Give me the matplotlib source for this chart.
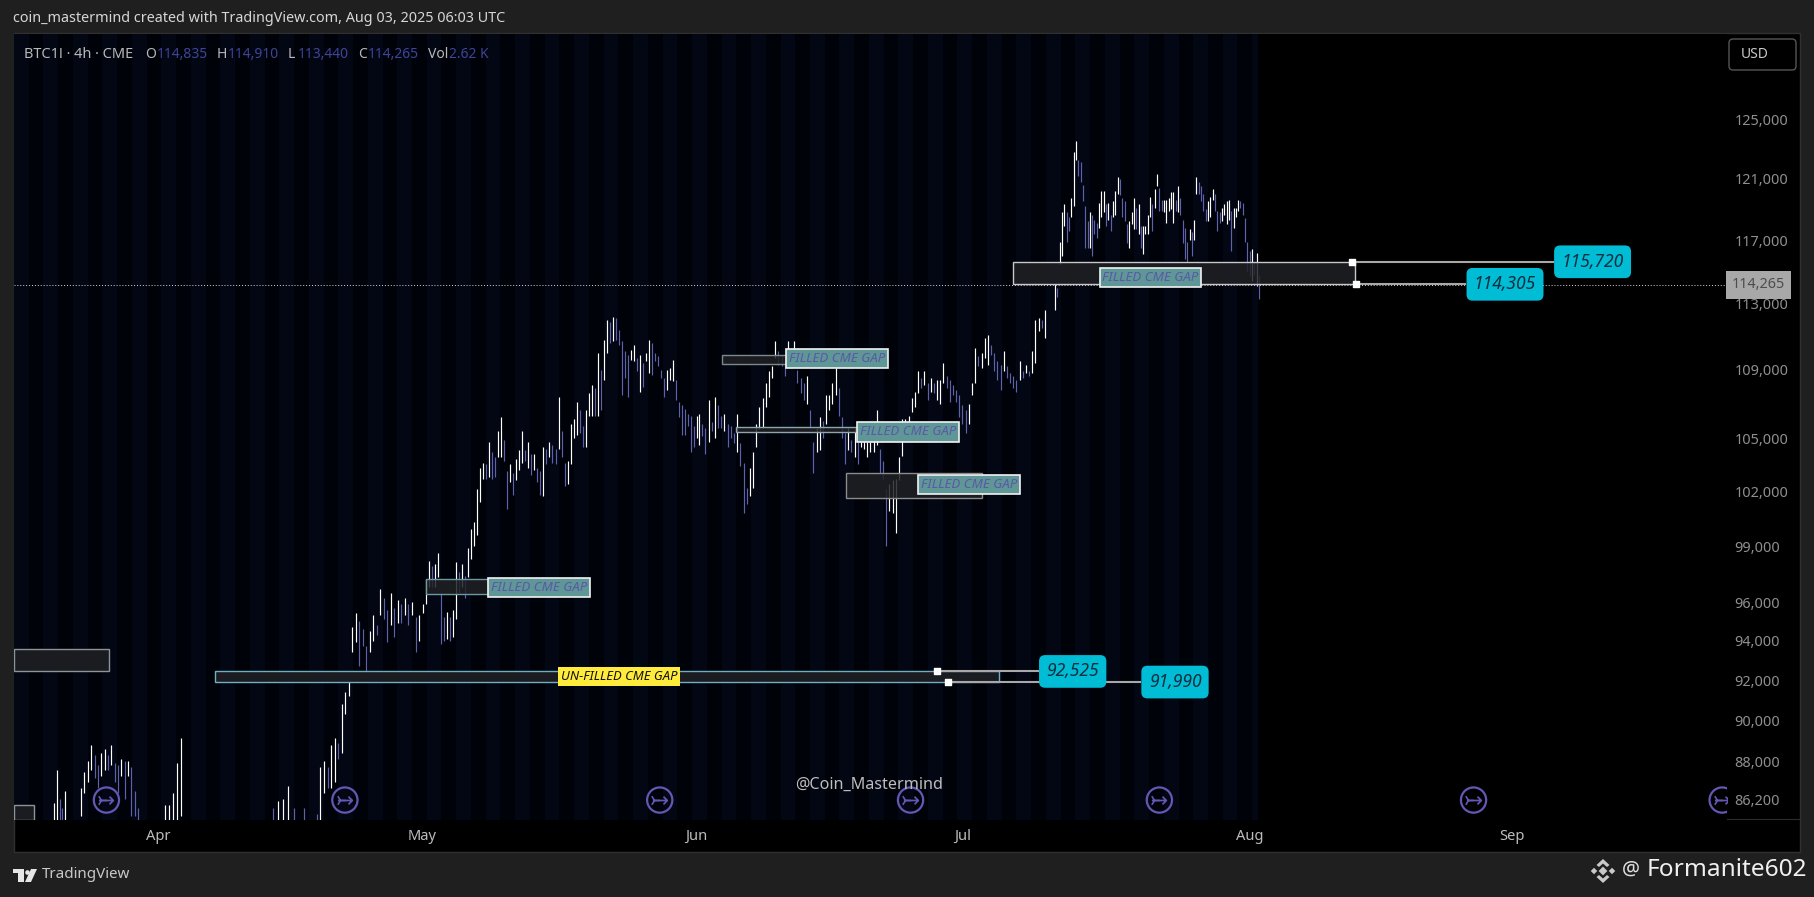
#!/usr/bin/env python3
import numpy as np
import matplotlib

matplotlib.use("Agg")
import matplotlib.pyplot as plt
from matplotlib.patches import Polygon, Rectangle, FancyBboxPatch
from matplotlib.transforms import ScaledTranslation

WIDTH, HEIGHT = 1814, 897
plt.rcParams["font.family"] = ["Noto Sans", "DejaVu Sans"]

# price ticks and month labels, x is counted in bars
PRICE_TICKS = [125000, 121000, 117000, 113000, 109000, 105000, 102000,
               99000, 96000, 94000, 92000, 90000, 88000, 86200]
MONTHS = ["Apr", "May", "Jun", "Jul", "Aug", "Sep"]
MONTH_POS = [65.7, 185.5, 310.2, 431.2, 561.6, 680.9]
LAST_PRICE = 114265
SESSION_END = 565.6

# each stretch of bars: first bar, last bar, highs, lows (in thousands)
SPAN_A = (18.2, 23.2)
HIGH_A = [86.1, 87.7, 86.3, 85.9, 86.7]
LOW_A = [85.3, 85.3, 85.3, 85.3, 85.3]

SPAN_B = (30.5, 56.4)
HIGH_B = [86.8, 87.6, 88.1, 88.9, 88.4, 87.9, 88.5, 88.7, 88.4, 88.9, 88.0,
          87.9, 88.2, 88.1, 88.1, 87.8, 86.7, 85.9]
LOW_B = [85.5, 86.6, 87.1, 87.7, 87.3, 86.8, 87.4, 87.7, 87.7, 87.9, 87.1,
         86.6, 87.4, 86.3, 87.4, 85.5, 85.5, 85.3]

SPAN_C = (68.6, 75.9)
HIGH_C = [86.0, 86.0, 86.6, 88.0, 89.2]
LOW_C = [85.3, 85.3, 85.3, 85.3, 85.5]

SPAN_D = (117.7, 131.8)
HIGH_D = [85.9, 86.2, 86.3, 86.9, 85.9, np.nan, 85.9]
LOW_D = [85.3, 85.3, 85.3, 85.3, 85.3, np.nan, 85.3]

SPAN_E = (137.7, 187.3)
HIGH_E = [85.6, 87.8, 88.1, 87.8, 88.9, 89.2, 89.0, 90.9, 91.5, 92.0, 94.8,
          95.5, 95.1, 94.7, 93.8, 94.6, 95.4, 94.9, 96.8, 96.3, 95.7, 96.6,
          95.8, 96.2, 96.0, 96.3, 96.0, 96.1, 95.3, 95.4, 96.0, 97.3]
LOW_E = [85.3, 85.3, 86.6, 86.8, 86.8, 87.1, 88.2, 88.5, 90.4, 91.3, 93.5,
         94.0, 92.8, 93.8, 92.5, 93.5, 94.1, 94.4, 95.4, 95.2, 94.0, 94.9,
         94.3, 95.0, 95.0, 95.4, 94.9, 95.4, 93.5, 94.1, 95.5, 96.0]

SPAN_F = (188.6, 310.5)
HIGH_F = [98.3, 98.0, 98.1, 98.7, 96.6, 95.3, 95.6, 95.3, 95.7, 98.2, 97.7,
          98.1, 97.5, 99.0, 100.0, 100.4, 102.2, 103.4, 103.7, 103.6, 104.9,
          104.3, 104.0, 105.5, 106.3, 105.0, 103.2, 103.6, 103.1, 103.9,
          104.4, 105.5, 104.4, 104.9, 104.2, 104.2, 103.4, 103.2, 104.6,
          104.5, 104.9, 104.7, 104.5, 107.5, 105.5, 103.7, 103.8, 105.9,
          106.2, 107.2, 106.7, 105.8, 106.7, 107.7, 108.2, 108.0, 110.1,
          109.1, 110.9, 112.1, 112.0, 112.3, 112.2, 111.5, 110.8, 110.2,
          110.0, 110.3, 110.6, 109.8, 110.0, 109.5, 110.1, 110.9, 110.7,
          110.1, 109.9, 109.1, 108.6, 109.1, 109.2, 109.7, 108.5, 107.2,
          107.0, 106.8, 106.5, 106.4, 105.8, 106.4]
LOW_F = [96.9, 96.9, 96.9, 97.4, 93.9, 94.1, 94.2, 94.1, 94.3, 95.2, 96.6,
         96.9, 96.3, 97.4, 98.4, 99.1, 99.7, 101.5, 102.8, 102.8, 102.9,
         102.8, 102.9, 104.0, 104.0, 103.8, 101.1, 102.6, 101.9, 102.7,
         103.3, 103.7, 103.8, 103.4, 103.0, 103.3, 102.6, 101.9, 101.8,
         103.6, 104.0, 103.7, 103.6, 104.5, 104.0, 102.4, 102.5, 103.6,
         105.1, 105.3, 105.4, 104.6, 104.6, 106.4, 106.4, 106.4, 106.4,
         106.7, 108.5, 110.1, 110.7, 110.8, 110.9, 110.6, 107.6, 108.6,
         107.5, 109.7, 109.6, 109.0, 107.8, 108.1, 109.6, 108.9, 108.8,
         109.6, 109.3, 108.6, 107.5, 107.9, 108.5, 108.4, 107.3, 106.3,
         105.3, 105.3, 105.8, 104.3, 104.6, 105.1]

SPAN_G = (311.4, 468.6)
HIGH_G = [106.5, 105.9, 105.7, 107.3, 106.0, 107.5, 107.0, 106.4, 106.5,
          105.9, 105.8, 105.4, 106.5, 104.8, 103.7, 102.3, 103.4, 104.3,
          105.9, 106.9, 107.4, 108.3, 109.0, 109.3, 110.8, 110.2, 110.0,
          109.6, 110.8, 110.0, 110.8, 109.1, 108.6, 108.3, 108.7, 106.7,
          104.9, 105.7, 106.3, 106.1, 107.6, 107.6, 108.3, 109.2, 108.0,
          106.3, 105.4, 105.7, 105.0, 105.7, 104.9, 104.9, 104.9, 104.9,
          104.9, 105.1, 106.7, 104.5, 103.8, 102.2, 102.5, 102.7, 102.8,
          104.0, 106.2, 106.2, 106.4, 107.4, 107.8, 109.0, 108.6, 109.0,
          108.3, 108.6, 108.3, 108.5, 108.5, 109.5, 108.7, 108.5, 108.2,
          107.9, 107.6, 107.0, 106.7, 107.1, 108.3, 110.4, 109.9, 110.1,
          111.0, 111.2, 110.6, 110.1, 109.6, 109.4, 110.2, 109.3, 108.9,
          108.7, 108.5, 109.6, 109.0, 109.4, 109.0, 110.2, 112.1, 112.2,
          112.1, 112.7]
LOW_G = [104.7, 105.2, 104.2, 104.9, 105.5, 105.1, 105.7, 105.7, 105.5,
         104.6, 105.1, 104.8, 104.3, 103.5, 100.9, 101.4, 101.8, 102.3,
         104.6, 105.6, 105.7, 106.9, 107.5, 108.6, 109.8, 109.4, 109.3,
         108.7, 109.4, 109.2, 110.3, 108.3, 107.7, 107.3, 107.1, 105.7,
         103.1, 104.3, 104.4, 105.1, 105.9, 106.7, 107.1, 107.6, 106.4,
         105.1, 103.6, 104.4, 104.3, 104.0, 103.6, 104.6, 104.5, 104.0,
         104.3, 104.3, 104.7, 103.1, 102.7, 99.1, 101.0, 100.9, 99.8,
         102.7, 104.1, 105.9, 105.9, 106.6, 106.9, 107.7, 108.0, 108.2,
         107.3, 107.8, 107.7, 107.3, 107.1, 108.3, 108.0, 107.2, 107.6,
         107.2, 106.3, 105.9, 105.4, 105.9, 107.6, 108.3, 109.3, 109.2,
         109.8, 109.4, 110.0, 109.0, 108.5, 107.9, 109.0, 108.6, 108.3,
         108.0, 107.8, 108.5, 108.6, 108.9, 108.7, 108.9, 109.5, 111.4,
         111.6, 111.0]

SPAN_H = (473.2, 565.9)
HIGH_H = [114.3, 114.1, 117.0, 118.9, 119.4, 118.9, 118.6, 119.8, 122.9,
          123.6, 122.3, 122.2, 120.7, 119.3, 118.3, 118.9, 118.7, 118.4,
          118.2, 119.5, 120.3, 120.3, 119.4, 119.5, 118.7, 119.6, 120.3,
          121.2, 121.1, 119.8, 119.6, 118.1, 118.3, 118.9, 119.8, 119.2,
          119.4, 118.0, 118.0, 118.0, 118.7, 119.9, 119.4, 120.4, 121.4,
          120.5, 119.7, 119.7, 119.7, 119.8, 120.2, 120.2, 119.7, 120.6,
          119.8, 118.4, 117.9, 117.0, 117.8, 117.6, 118.4, 121.2, 120.9,
          120.6, 120.1, 119.1, 119.6, 119.9, 120.4, 120.1, 119.0, 118.9,
          119.2, 119.4, 119.6, 119.7, 119.0, 119.2, 119.2, 119.7, 119.6,
          119.5, 118.5, 117.0, 116.4, 116.5, 115.7, 116.3, 114.9]
LOW_H = [112.7, 113.5, 115.6, 116.1, 118.0, 117.0, 117.7, 118.6, 119.3,
         122.3, 121.3, 120.9, 119.6, 116.6, 116.6, 116.6, 116.1, 117.5,
         117.2, 117.9, 118.6, 118.9, 118.0, 118.4, 117.7, 118.6, 118.7,
         120.1, 120.0, 118.6, 118.3, 116.9, 116.6, 118.1, 117.8, 117.8,
         117.5, 116.6, 116.2, 117.5, 117.5, 118.6, 117.7, 119.2, 120.6,
         119.0, 119.0, 118.9, 118.2, 119.0, 119.1, 118.2, 119.0, 118.9,
         118.7, 116.9, 115.9, 115.7, 117.1, 116.1, 117.1, 120.1, 120.1,
         119.6, 119.0, 118.3, 118.3, 118.6, 119.7, 119.0, 117.7, 118.2,
         118.3, 118.7, 118.1, 118.4, 116.4, 117.9, 118.6, 119.0, 119.2,
         118.7, 117.0, 115.1, 114.8, 114.5, 114.9, 114.2, 113.4]

# CME gaps: first bar, last bar, top, bottom
GAP_X0 = [454.1, 321.8, 328.2, 378.2, 187.3, 0.0, 0.0, 91.4]
GAP_X1 = [609.5, 350.9, 383.6, 440.0, 215.5, 43.2, 9.1, 447.7]
GAP_TOP = [115720, 109950, 105760, 103100, 97320, 93690, 86000, 92525]
GAP_BOTTOM = [114305, 109450, 105470, 101700, 96530, 92570, 85300, 91990]
GAP_EDGE = ["#c8c8c8", "#7d8a8a", "#8fa5ad", "#8c8c8c", "#6a9aa0", "#8c9496",
            "#8c9496", "#6fb0c0"]

TAG_X0 = [493.6, 350.9, 383.2, 410.9, 215.5]
TAG_X1 = [539.5, 397.3, 429.5, 457.3, 261.8]
TAG_TOP = [115330, 110360, 106000, 102990, 97380]
TAG_BOTTOM = [114150, 109200, 104900, 101930, 96370]

UNFILLED_X = (247.3, 302.7)
UNFILLED_PRICE = (92740, 91780)

CALLOUT_PRICE = [115720, 114305, 92525, 91990]
CALLOUT_FROM = [608.2, 610.0, 419.5, 424.5]
CALLOUT_TO = [699.5, 659.5, 465.5, 511.8]
CALLOUT_MID = [717.5, 677.7, 481.2, 527.7]

ICON_X = [42.0, 150.4, 293.5, 407.5, 520.6, 663.4, 776.4]
ICON_PRICE = 86250

LEGEND_TEXT = ["BTC1! · 4h · CME", "O", "114,835", "H", "114,910", "L", "113,440",
               "C", "114,265", "Vol", "2.62 K"]
LEGEND_LEFT = [24, 145, 157, 217, 228, 288, 298, 358, 368, 428, 449]


def px_rect(x0, y0, x1, y1):
    return [x0 / WIDTH, 1 - y1 / HEIGHT, (x1 - x0) / WIDTH, (y1 - y0) / HEIGHT]


def stack_bars():
    spans = [SPAN_A, SPAN_B, SPAN_C, SPAN_D, SPAN_E, SPAN_F, SPAN_G, SPAN_H]
    highs = [HIGH_A, HIGH_B, HIGH_C, HIGH_D, HIGH_E, HIGH_F, HIGH_G, HIGH_H]
    lows = [LOW_A, LOW_B, LOW_C, LOW_D, LOW_E, LOW_F, LOW_G, LOW_H]
    xs = [np.linspace(s[0], s[1], len(h)) for s, h in zip(spans, highs)]
    return (np.concatenate(xs), np.concatenate(highs) * 1000,
            np.concatenate(lows) * 1000)


def draw_chart(ax, fig):
    ax.set_yscale("log")
    ax.set_xlim(0, 778.6)
    ax.set_ylim(85339, 131010)
    ax.set_facecolor("#000000")
    for spine in ax.spines.values():
        spine.set_visible(False)

    ax.axvspan(0, SESSION_END, color="#00020a", lw=0, zorder=0)
    for start in np.arange(0, SESSION_END, 6.7 * 2):
        ax.axvspan(start, min(start + 6.7, SESSION_END), color="#030613", lw=0, zorder=0)

    x, high, low = stack_bars()
    up = np.r_[True, high[1:] >= high[:-1]]
    ax.vlines(x[~up], low[~up], high[~up], color="#5c62ac", lw=0.85, zorder=2)
    ax.vlines(x[up], low[up], high[up], color="#ffffff", lw=0.85, zorder=2)

    ax.axhline(LAST_PRICE, color="#d8d8d8", lw=0.7, ls=(0, (1, 2)), zorder=3)

    for x0, x1, top, bottom, edge in zip(GAP_X0, GAP_X1, GAP_TOP, GAP_BOTTOM, GAP_EDGE):
        ax.add_patch(Rectangle((x0, bottom), x1 - x0, top - bottom, facecolor=(0.12, 0.13, 0.14, 0.85),
                               edgecolor=edge, lw=1.0, zorder=4))

    for x0, x1, top, bottom in zip(TAG_X0, TAG_X1, TAG_TOP, TAG_BOTTOM):
        ax.add_patch(Rectangle((x0, bottom), x1 - x0, top - bottom, facecolor="#5f9696",
                               edgecolor="#f2f2f2", lw=1.2, zorder=5))
        ax.text((x0 + x1) / 2, np.sqrt(top * bottom), "FILLED CME GAP", color="#5c58a8", fontsize=9.6,
                style="italic", ha="center", va="center", zorder=6)

    ax.add_patch(Rectangle((UNFILLED_X[0], UNFILLED_PRICE[1]), UNFILLED_X[1] - UNFILLED_X[0],
                           UNFILLED_PRICE[0] - UNFILLED_PRICE[1], facecolor="#ffeb3b", edgecolor="none", zorder=5))
    ax.text(sum(UNFILLED_X) / 2, np.sqrt(UNFILLED_PRICE[0] * UNFILLED_PRICE[1]), "UN-FILLED CME GAP",
            color="#111111", fontsize=9.4, style="italic", ha="center", va="center", zorder=6)

    for price, start, end, mid in zip(CALLOUT_PRICE, CALLOUT_FROM, CALLOUT_TO, CALLOUT_MID):
        ax.plot([start, end], [price, price], color="#a8a8a8", lw=1.5, zorder=7)
        ax.scatter([start], [price], marker="s", s=16, color="#ffffff", zorder=8)
        ax.text(mid, price, f"{price:,}", color="#0b2f3f", fontsize=12.6, style="italic", weight="semibold",
                ha="center", va="center", zorder=9,
                bbox=dict(boxstyle="round,pad=0.42,rounding_size=0.35", fc="#00bcd4", ec="none"))

    icon_y = [ICON_PRICE] * len(ICON_X)
    ax.scatter(ICON_X, icon_y, s=330, facecolors="none", edgecolors="#6557b4", lw=1.6, zorder=8)
    ax.scatter(ICON_X, icon_y, s=120, marker=r"$\rightarrow$", color="#6557b4", lw=0, zorder=8)
    ax.scatter(np.array(ICON_X) - 2.4, icon_y, s=60, marker="4", color="#6557b4", lw=1.2, zorder=8)

    ax.yaxis.tick_right()
    ax.set_yticks(PRICE_TICKS, [f"{t:,}" for t in PRICE_TICKS])
    ax.yaxis.set_minor_locator(plt.NullLocator())
    ax.set_xticks(MONTH_POS, MONTHS)
    ax.tick_params(axis="y", length=0, pad=5.5, labelsize=10.4, labelcolor="#8f8f8f")
    ax.tick_params(axis="x", length=0, pad=7, labelsize=10.6, labelcolor="#bcbcbc")
    for lab in ax.get_xticklabels():
        lab.set_fontweight("medium")
    # the axis is a little lower than its printed labels
    lift = ScaledTranslation(0, 1.5 / 100, fig.dpi_scale_trans)
    for lab in ax.get_yticklabels():
        lab.set_transform(lab.get_transform() + lift)

    # last price tag on the axis
    ax.text(1.0185, LAST_PRICE, f"{LAST_PRICE:,}", transform=ax.get_yaxis_transform(), color="#4d4d4d", fontsize=10.4,
            ha="center", va="center", clip_on=False, zorder=9,
            bbox=dict(boxstyle="square,pad=0.42", fc="#a8a8a8", ec="none"))


def draw_frame(over):
    over.set_xlim(0, WIDTH)
    over.set_ylim(HEIGHT, 0)
    over.axis("off")

    over.text(13, 18, "coin_mastermind created with TradingView.com, Aug 03, 2025 06:03 UTC", color="#d6d6d6",
              fontsize=10.35, va="center")
    for i, (label, left) in enumerate(zip(LEGEND_TEXT, LEGEND_LEFT)):
        is_value = i in (2, 4, 6, 8, 10)
        size = 10.5 if i == 0 else 10
        over.text(left, 54, label, color="#3f4596" if is_value else "#b8b8b8", fontsize=size, va="center")

    over.add_patch(FancyBboxPatch((1729, 39), 67, 31, boxstyle="round,pad=0,rounding_size=4", fc="#000000",
                                  ec="#555555", lw=1))
    over.text(1741, 55, "USD", color="#c8c8c8", fontsize=10, va="center")
    over.plot([1727, 1800], [819, 819], color="#2c2c2c", lw=0.8)

    over.text(869, 785, "@Coin_Mastermind", color="#bdbdbd", fontsize=11.6, ha="center", va="center")

    # TradingView mark
    over.add_patch(Polygon([(13, 869), (24, 869), (24, 882), (18, 882), (18, 873.5), (13, 873.5)], fc="#e6e6e6"))
    over.scatter([27], [872], s=11, color="#e6e6e6", lw=0)
    over.add_patch(Polygon([(31, 869), (37, 869), (31, 882), (25, 882)], fc="#e6e6e6"))
    over.text(42, 875, "TradingView", color="#c8c8c8", fontsize=10.9, va="center")

    # Binance mark
    over.scatter([1603, 1594, 1612], [871, 871, 871], s=[20, 11, 11], marker="D", color="#c9c9c9", lw=0)
    over.add_patch(Polygon([(1603, 859), (1609.5, 865), (1607, 867), (1603, 863.5), (1599, 867), (1596.5, 865)],
                           fc="#c9c9c9"))
    over.add_patch(Polygon([(1603, 883), (1609.5, 877), (1607, 875), (1603, 878.5), (1599, 875), (1596.5, 877)],
                           fc="#c9c9c9"))
    over.text(1622, 870, "@", color="#e0e0e0", fontsize=14.5, va="center")
    over.text(1647, 870, "Formanite602", color="#f0f0f0", fontsize=17.6, va="center")


def main() -> None:
    fig = plt.figure(figsize=(WIDTH / 100, HEIGHT / 100), dpi=100, facecolor="#1f1f1f")

    frame = px_rect(14, 33, 1800, 852)
    fig.add_artist(Rectangle((frame[0], frame[1]), frame[2], frame[3], transform=fig.transFigure, facecolor="#000000",
                             edgecolor="#303030", lw=1, zorder=-1))

    ax = fig.add_axes(px_rect(14, 34.5, 1727, 819.5))
    draw_chart(ax, fig)

    over = fig.add_axes([0, 0, 1, 1], facecolor="none", zorder=5)
    draw_frame(over)

    fig.savefig("out.png", dpi=100, facecolor=fig.get_facecolor())


if __name__ == "__main__":
    main()
